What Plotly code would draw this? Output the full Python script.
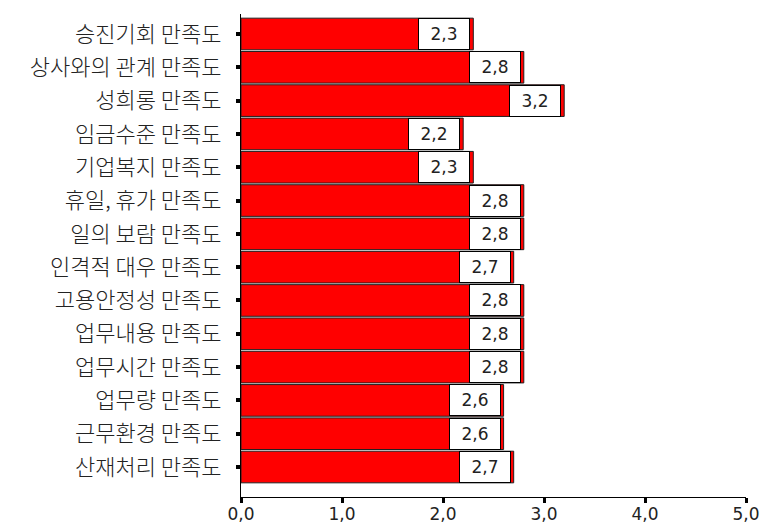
import plotly.graph_objects as go

# Satisfaction items (top to bottom) and mean scores
items = [
    "승진기회 만족도",
    "상사와의 관계 만족도",
    "성희롱 만족도",
    "임금수준 만족도",
    "기업복지 만족도",
    "휴일, 휴가 만족도",
    "일의 보람 만족도",
    "인격적 대우 만족도",
    "고용안정성 만족도",
    "업무내용 만족도",
    "업무시간 만족도",
    "업무량 만족도",
    "근무환경 만족도",
    "산재처리 만족도",
]
scores = [2.3, 2.8, 3.2, 2.2, 2.3, 2.8, 2.8, 2.7, 2.8, 2.8, 2.8, 2.6, 2.6, 2.7]
x_ticks = [0, 1, 2, 3, 4, 5]

KR_FONT = "Noto Sans CJK KR"

fig = go.Figure(
    go.Bar(
        x=scores,
        y=items,
        orientation="h",
        marker=dict(color="#FF0000", line=dict(color="#202020", width=1)),
        hoverinfo="skip",
    )
)

# value boxes sitting at the end of each bar
for item, v in zip(items, scores):
    fig.add_annotation(
        x=v, y=item, xref="x", yref="y",
        text=f"{v:.1f}".replace(".", ","),
        showarrow=False,
        xanchor="right", xshift=-3,
        width=46, height=26,
        bgcolor="white", bordercolor="black", borderwidth=1, borderpad=2,
        font=dict(family="DejaVu Sans", size=17, color="#222"),
    )

fig.update_layout(
    width=763, height=525,
    margin=dict(l=241, r=17, t=14, b=28, autoexpand=False),
    paper_bgcolor="white", plot_bgcolor="white",
    bargap=0.05,
    showlegend=False,
    separators=", ",
    font=dict(family=KR_FONT, size=16, color="black"),
)

fig.update_xaxes(
    range=[0, 5],
    tickvals=x_ticks,
    tickformat=".1f",
    automargin=False,
    showgrid=False, zeroline=False,
    showline=True, linecolor="black", linewidth=1,
    ticks="outside", ticklen=5, tickwidth=3, tickcolor="black",
    ticklabelstandoff=-3,
    tickfont=dict(family="DejaVu Sans", size=17, color="#222"),
)

fig.update_yaxes(
    range=[len(items) - 1 + 0.9, -0.6],
    automargin=False,
    showgrid=False, zeroline=False,
    showline=True, linecolor="black", linewidth=1,
    ticks="outside", ticklen=4, tickwidth=4, tickcolor="black",
    ticklabelstandoff=10,
    tickfont=dict(family=KR_FONT, size=22, color="#222", weight=300),
)

fig.write_html("out.html")
